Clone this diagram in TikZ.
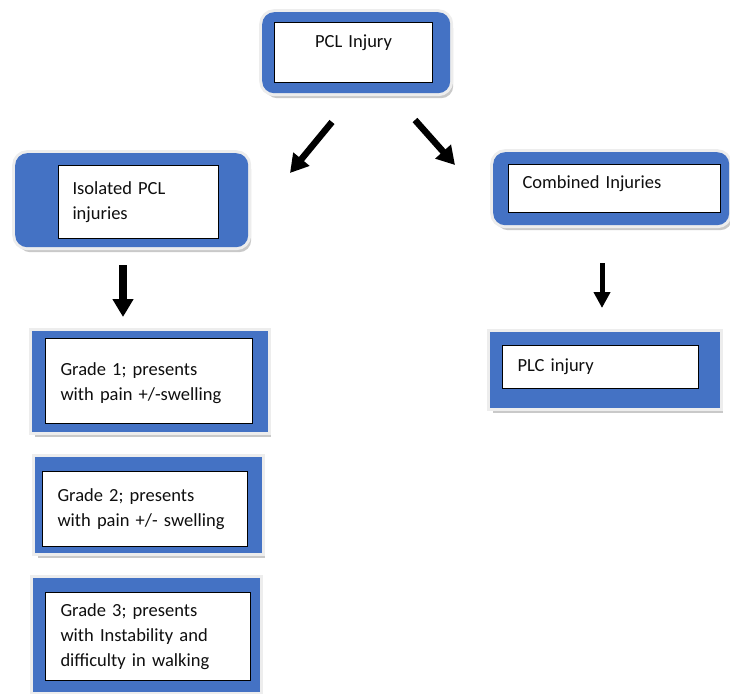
\documentclass[tikz,border=0pt]{standalone}
\usepackage{fontspec}
\setmainfont{Carlito}
\usepackage{tikz}
\usetikzlibrary{shadows,arrows.meta}
\definecolor{bleuboite}{RGB}{68,114,196}
\definecolor{noirtexte}{RGB}{15,15,15}

\tikzset{
  cadre/.style={fill=bleuboite, anchor=north west, inner sep=0pt,
    drop shadow={shadow xshift=3pt, shadow yshift=-5pt, fill=gray!60, opacity=.7},
    preaction={draw=gray!14, line width=6pt}},
  cadrerond/.style={cadre, rounded corners=12pt},
  case/.style={fill=white, draw=black, line width=1pt, anchor=north west,
    inner ysep=0pt, inner xsep=15pt, align=left, text=noirtexte,
    font=\fontsize{18.5}{25}\selectfont},
  fleche/.style={line width=6.5pt, -{Triangle[length=18pt,width=20pt]}},
}

\begin{document}
\begin{tikzpicture}[x=1pt,y=-1pt]
        \useasboundingbox (0,0) rectangle (730,693);
        % cadres bleus
        \node[cadrerond, minimum width=188pt, minimum height=81pt] (pclc) at (262,12) {};
        \node[cadrerond, minimum width=233pt, minimum height=94pt] (isoc) at (15,153) {};
        \node[cadrerond, minimum width=236pt, minimum height=73pt] (combc) at (493,152) {};
        \node[cadre, minimum width=236pt, minimum height=101pt] (gun) at (32,331) {};
        \node[cadre, minimum width=227pt, minimum height=96pt] (gdeux) at (35,457) {};
        \node[cadre, minimum width=227pt, minimum height=114pt] (gtrois) at (33,578) {};
        \node[cadre, minimum width=230pt, minimum height=76pt] (plcc) at (490,332) {};
        % cases blanches
        \node[case, align=center, text width=128pt, minimum height=60pt, text depth=22pt] (pcl) at (274,22) {PCL Injury};
        \node[case, inner xsep=14pt, text width=132pt, minimum height=73pt] (iso) at (58,165) {Isolated PCL\\injuries};
        \node[case, inner xsep=14pt, text width=184pt, minimum height=48pt, text depth=12pt] (comb) at (508,164) {Combined Injuries};
        \node[case, text width=177pt, minimum height=85pt, text depth=23pt] (gradeun) at (45,338) {Grade 1; presents\\with pain +/-swelling};
        \node[case, text width=175pt, minimum height=75pt] (gradedeux) at (42,471) {Grade 2; presents\\with pain +/- swelling};
        \node[case, text width=175pt, minimum height=88pt] (gradetrois) at (45,592) {Grade 3; presents\\with Instability and\\difficulty in walking};
        \node[case, text width=166pt, minimum height=43pt] (plc) at (502,345) {PLC injury};
        % fleches
        \coordinate (fa) at (332,122);
        \coordinate (fb) at (290,173);
        \coordinate (fc) at (415,120);
        \coordinate (fd) at (455,165);
        \coordinate (fe) at (123,265);
        \coordinate (ff) at (123,317);
        \coordinate (fg) at (602,263);
        \coordinate (fh) at (602,308);
        \draw[fleche] (fa) -- (fb);
        \draw[fleche] (fc) -- (fd);
        \draw[fleche, line width=8pt] (fe) -- (ff);
        \draw[fleche, line width=5pt, -{Triangle[length=16pt,width=16pt]}] (fg) -- (fh);
      \end{tikzpicture}
\end{document}
